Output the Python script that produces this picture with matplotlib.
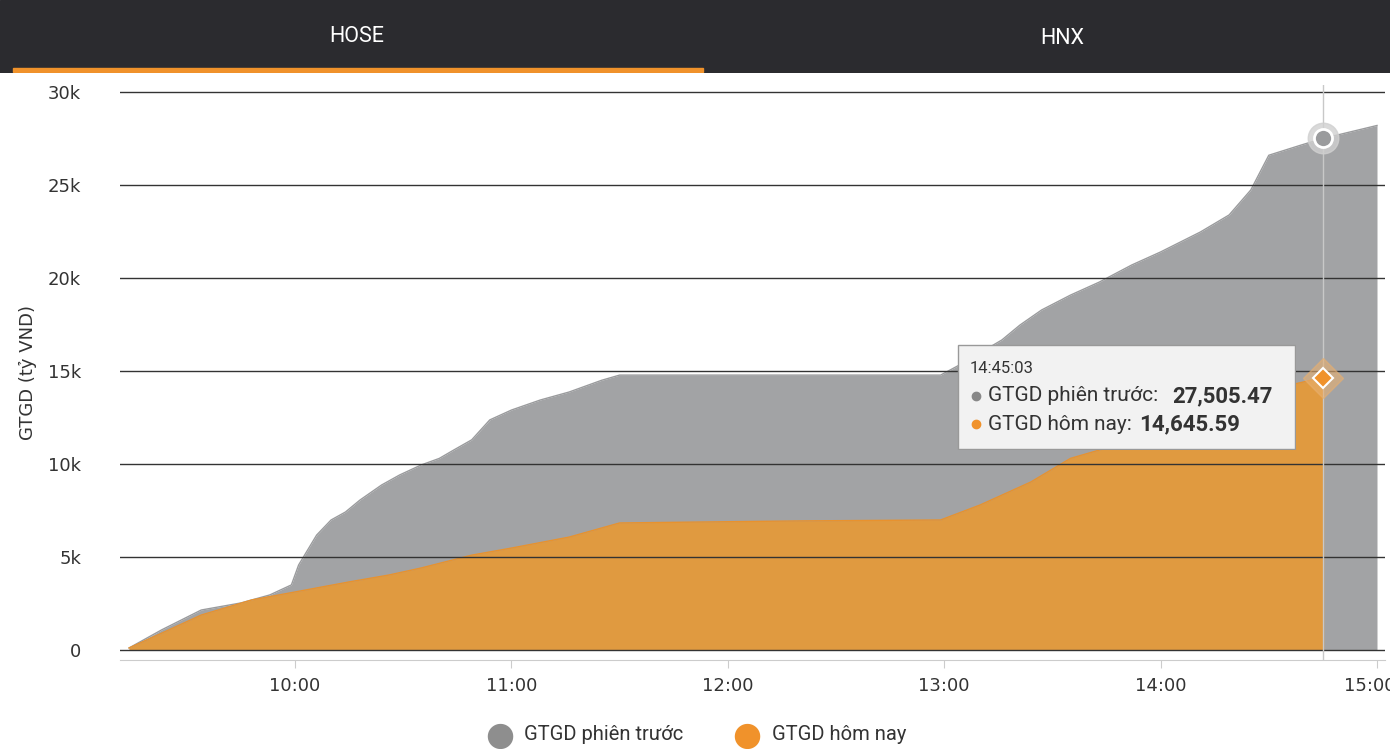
import matplotlib.pyplot as plt
import matplotlib.patches as mpatches
import matplotlib.transforms as mtrans
import numpy as np

# data (times HH:MM, values in thousand ty VND)
prev_times = ["9:14", "9:23", "9:34", "9:45", "9:53", "9:59", "10:01", "10:06", "10:10", "10:14",
              "10:18", "10:24", "10:29", "10:35", "10:40", "10:44", "10:49", "10:54", "11:00", "11:08",
              "11:16", "11:25", "11:30", "11:52", "12:20", "12:59", "13:04", "13:16", "13:21", "13:27",
              "13:35", "13:43", "13:52", "14:00", "14:11", "14:19", "14:25", "14:30", "14:39", "14:45", "15:00"]
prev_vals = [0.11, 1.08, 2.15, 2.53, 2.96, 3.5, 4.57, 6.18, 6.99, 7.42,
             8.06, 8.87, 9.41, 9.95, 10.3, 10.75, 11.3, 12.37, 12.9, 13.44,
             13.87, 14.5, 14.78, 14.78, 14.78, 14.78, 15.3, 16.67, 17.47, 18.28,
             19.08, 19.78, 20.7, 21.4, 22.47, 23.39, 24.73, 26.6, 27.15, 27.5, 28.2]
today_times = ["9:14", "9:25", "9:34", "9:48", "10:00", "10:15", "10:26", "10:35", "10:49", "11:00",
               "11:16", "11:30", "11:52", "12:20", "12:59", "13:10", "13:24", "13:35", "13:43", "13:52",
               "14:00", "14:11", "14:25", "14:36", "14:45"]
today_vals = [0.11, 1.08, 1.88, 2.69, 3.12, 3.66, 4.03, 4.41, 5.1, 5.48,
              6.07, 6.83, 6.88, 6.94, 6.99, 7.8, 9.03, 10.3, 10.75, 11.3,
              11.8, 12.37, 13.44, 14.25, 14.65]
x_ticks = ["10:00", "11:00", "12:00", "13:00", "14:00", "15:00"]
y_ticks = [0, 5, 10, 15, 20, 25, 30]
tabs = ["HOSE", "HNX"]

def to_min(t):
    h, m = t.split(":")
    return int(h) * 60 + int(m)

px = np.array([to_min(t) for t in prev_times])
py = np.array(prev_vals) * 1000
tx = np.array([to_min(t) for t in today_times])
ty = np.array(today_vals) * 1000

W, H = 1390, 749
fig = plt.figure(figsize=(W / 100, H / 100), dpi=100)
fig.patch.set_facecolor("white")

# header bar
hdr = fig.add_axes([0, 1 - 73 / H, 1, 73 / H])
hdr.set_facecolor("#2b2b2f")
hdr.set_xlim(0, W); hdr.set_ylim(73, 0); hdr.axis("off")
hdr.add_patch(mpatches.Rectangle((0, 0), W, 73, color="#2b2b2f"))
hdr.text(357, 36, tabs[0], color="white", fontsize=15.5, ha="center", va="center", family="Roboto")
hdr.text(1062, 38, tabs[1], color="white", fontsize=15.5, ha="center", va="center", family="Roboto")
hdr.add_patch(mpatches.Rectangle((13, 68), 690, 4, color="#f0922b"))

ax = fig.add_axes([120 / W, 1 - 660 / H, (1385 - 120) / W, (660 - 85) / H])
x0 = 600 - 175 / 216.4 * 60
ax.set_xlim(x0, x0 + (1385 - 120) / 216.4 * 60)
ax.set_ylim(-10 / 558 * 30000, 30000 + 7 / 558 * 30000)

ax.fill_between(px, py, color="#a2a3a5", lw=0, zorder=2)
ax.plot(px, py, color="#9a9b9d", lw=1, zorder=2)
ax.fill_between(tx, ty, color="#e09a40", lw=0, zorder=3)
ax.plot(tx, ty, color="#e8922e", lw=1, zorder=3)
ax.plot([tx[-1], tx[-1]], [0, ty[-1]], color="#e8922e", lw=1, zorder=3)

for v in y_ticks:
    ax.axhline(v * 1000, color="#333333", lw=1, zorder=4)
ax.set_yticks([v * 1000 for v in y_ticks])
ax.set_yticklabels(["0"] + [f"{v}k" for v in y_ticks[1:]], fontsize=13, color="#333333")
ax.set_xticks([to_min(t) for t in x_ticks])
ax.set_xticklabels(x_ticks, fontsize=13, color="#333333")
ax.tick_params(axis="y", length=0, pad=28)
ax.tick_params(axis="x", length=6, color="#cccccc", pad=6)
last = ax.get_xticklabels()[-1]
last.set_transform(last.get_transform() + mtrans.ScaledTranslation(-0.07, 0, fig.dpi_scale_trans))
for s in ["top", "right", "left"]:
    ax.spines[s].set_visible(False)
ax.spines["bottom"].set_color("#cccccc")
ax.set_ylabel("GTGD (tỷ VND)", fontsize=13, color="#333333", labelpad=8)

# hover
hx = to_min("14:45")
ax.axvline(hx, color="#c8c8c8", lw=1, zorder=5)
ax.plot(hx, 27505.47, "o", ms=22, color="#d0d0d0", alpha=0.8, zorder=6)
ax.plot(hx, 27505.47, "o", ms=13, mfc="#9a9b9d", mec="white", mew=2, zorder=7)
ax.plot(hx, 14645.59, "D", ms=20, color="#e8b070", alpha=0.6, zorder=6)
ax.plot(hx, 14645.59, "D", ms=10, mfc="#f0922b", mec="white", mew=1.5, zorder=7)

tip = fig.add_axes([957 / W, 1 - 450 / H, (1296 - 957) / W, (450 - 344) / H])
tip.set_xlim(0, 339); tip.set_ylim(106, 0); tip.axis("off")
tip.add_patch(mpatches.FancyBboxPatch((1, 1), 337, 104, boxstyle="square,pad=0",
                                      fc="#f2f2f2", ec="#999999", lw=1))
tip.text(13, 25, "14:45:03", fontsize=12, color="#333333", va="center", family="Roboto")
tip.plot(19, 52, "o", color="#888888", ms=6)
tip.text(31, 52, "GTGD phiên trước:", fontsize=15, color="#333333", va="center", family="Roboto")
tip.text(215, 52, "27,505.47", fontsize=16, color="#333333", va="center", weight="bold", family="Roboto")
tip.plot(19, 80, "o", color="#f0922b", ms=6)
tip.text(31, 80, "GTGD hôm nay:", fontsize=15, color="#333333", va="center", family="Roboto")
tip.text(182, 80, "14,645.59", fontsize=16, color="#333333", va="center", weight="bold", family="Roboto")

# legend
fig.text(500 / W, 1 - 735 / H, "●", fontsize=24, color="#8e8e8e", ha="center", va="center")
fig.text(524 / W, 1 - 735 / H, "GTGD phiên trước", fontsize=14.5, color="#333333", va="center", family="Roboto")
fig.text(747 / W, 1 - 735 / H, "●", fontsize=24, color="#f0922b", ha="center", va="center")
fig.text(772 / W, 1 - 735 / H, "GTGD hôm nay", fontsize=14.5, color="#333333", va="center", family="Roboto")

fig.savefig("out.png", dpi=100)
